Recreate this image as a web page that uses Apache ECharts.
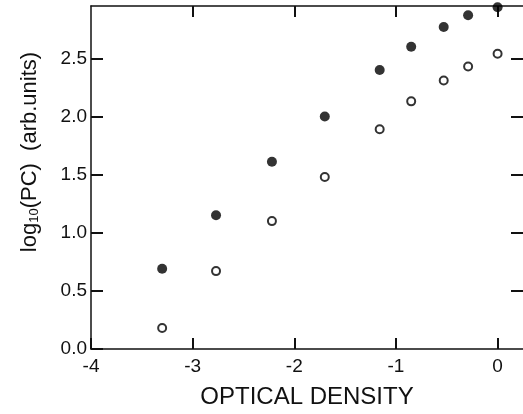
<!DOCTYPE html>
<html>
<head>
<meta charset="utf-8">
<script src="https://cdn.jsdelivr.net/npm/echarts@6/dist/echarts.min.js"></script>
<style>html,body{margin:0;padding:0;background:#fff}#c{width:523px;height:414px}</style>
</head>
<body>
<div id="c"></div>
<script>
const opticalDensity = [-3.30, -2.77, -2.22, -1.70, -1.16, -0.85, -0.53, -0.29, 0.0];
const filledValues   = [0.69, 1.15, 1.61, 2.00, 2.40, 2.60, 2.77, 2.87, 2.94];
const openValues     = [0.18, 0.67, 1.10, 1.48, 1.89, 2.13, 2.31, 2.43, 2.54];
const xTickLabels = ['-4', '-3', '-2', '-1', '0'];
const yTickLabels = ['0.0', '0.5', '1.0', '1.5', '2.0', '2.5'];

const FONT = 'Liberation Sans';
const chart = echarts.init(document.getElementById('c'));
const pair = (xs, ys) => xs.map((x, i) => [x, ys[i]]);
const xTickValues = xTickLabels.map(Number);
const yTickValues = yTickLabels.map(Number);

chart.setOption({
  animation: false,
  backgroundColor: '#fff',
  grid: { left: 91, top: 6, right: -2, bottom: 59, containLabel: false },
  xAxis: [
    {
      type: 'value', position: 'bottom', min: -4, max: 0.25, interval: 1,
      axisLine: { show: true, onZero: false, lineStyle: { color: '#111', width: 1.5 } },
      axisTick: { show: true, inside: true, length: 11, customValues: xTickValues, lineStyle: { color: '#111', width: 2 } },
      axisLabel: {
        margin: 8, color: '#111', fontFamily: FONT, fontSize: 19,
        customValues: xTickValues,
        formatter: v => xTickLabels[xTickValues.indexOf(v)] || ''
      },
      splitLine: { show: false },
      name: 'OPTICAL DENSITY', nameLocation: 'middle', nameGap: 36,
      nameTextStyle: { color: '#111', fontFamily: FONT, fontSize: 24 }
    },
    {
      type: 'value', position: 'top', min: -4, max: 0.25, interval: 1,
      axisLine: { show: true, onZero: false, lineStyle: { color: '#111', width: 1.5 } },
      axisTick: { show: true, inside: true, length: 11, customValues: xTickValues.slice(1), lineStyle: { color: '#111', width: 2 } },
      axisLabel: { show: false }, splitLine: { show: false }
    }
  ],
  yAxis: [
    {
      type: 'value', position: 'left', min: 0, max: 2.95, interval: 0.5,
      axisLine: { show: true, onZero: false, lineStyle: { color: '#111', width: 1.5 } },
      axisTick: { show: true, inside: true, length: 12, customValues: yTickValues, lineStyle: { color: '#111', width: 2 } },
      axisLabel: {
        margin: 4, color: '#111', fontFamily: FONT, fontSize: 19,
        customValues: yTickValues,
        formatter: v => yTickLabels[yTickValues.indexOf(v)] || ''
      },
      splitLine: { show: false }
    },
    {
      type: 'value', position: 'right', min: 0, max: 2.95, interval: 0.5,
      axisLine: { show: false, onZero: false },
      axisTick: { show: true, inside: true, length: 12, customValues: yTickValues.slice(1), lineStyle: { color: '#111', width: 2 } },
      axisLabel: { show: false }, splitLine: { show: false }
    }
  ],
  series: [
    {
      type: 'scatter', data: pair(opticalDensity, filledValues),
      symbol: 'circle', symbolSize: 10,
      itemStyle: { color: '#000' }
    },
    {
      type: 'scatter', data: pair(opticalDensity, openValues),
      symbol: 'circle', symbolSize: 8,
      itemStyle: { color: '#fff', borderColor: '#000', borderWidth: 2 }
    }
  ],
  graphic: [
    {
      type: 'text', x: 30, y: 152, rotation: Math.PI / 2,
      style: {
        text: 'log{sub|10}(PC)  (arb.units)',
        fontFamily: FONT, fontSize: 22, fill: '#111',
        align: 'center', verticalAlign: 'middle',
        rich: { sub: { fontSize: 13, fontFamily: FONT, fill: '#111', verticalAlign: 'bottom', padding: [8, 0, 0, 0] } }
      }
    }
  ]
});
</script>
</body>
</html>
